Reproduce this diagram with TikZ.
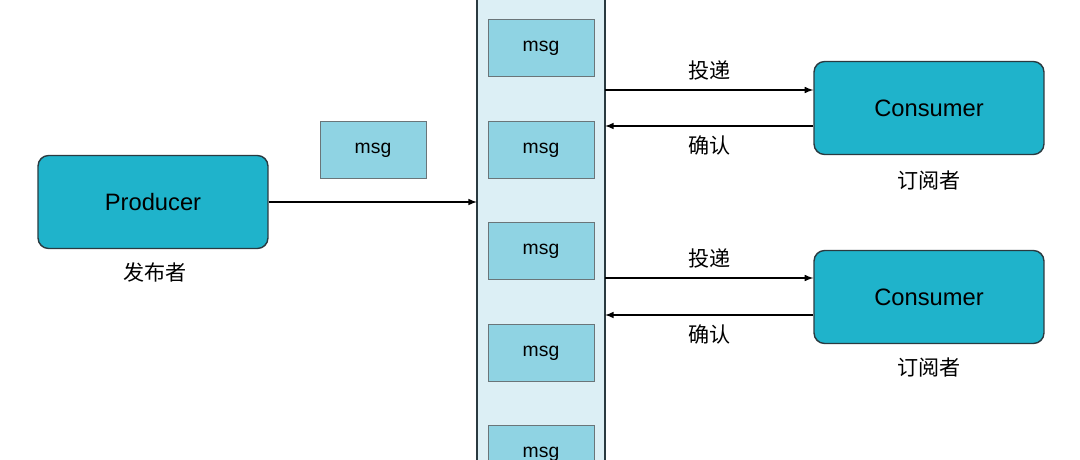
\documentclass[tikz,border=0pt]{standalone}
\usepackage{fontspec}
\setmainfont{Liberation Sans}
\newfontfamily\cjk{Noto Sans CJK SC}
\usetikzlibrary{positioning}
\definecolor{boxfill}{HTML}{1FB3CB}
\definecolor{msgfill}{HTML}{8FD3E3}
\definecolor{queuefill}{HTML}{DCEFF5}
\definecolor{edge}{HTML}{2A3A40}
\tikzset{
  role/.style={draw=edge,fill=boxfill,rounded corners=6pt,minimum width=4.6cm,minimum height=1.86cm,font=\fontsize{13.5}{15}\selectfont,line width=0.8pt},
  msgbox/.style={draw=edge!70,fill=msgfill,minimum width=2.12cm,minimum height=1.14cm,font=\fontsize{11}{13}\selectfont},
  cn/.style={font=\cjk\fontsize{12}{14}\selectfont},
  link/.style={-latex,line width=0.7pt}
}
\begin{document}
\begin{tikzpicture}[x=0.02cm,y=-0.02cm]
 \useasboundingbox (0,0) rectangle (1080,460);
 \clip (0,0) rectangle (1080,460);
 % queue
 \draw[edge,fill=queuefill,line width=0.8pt](477,-20) rectangle (605,480);
 \node[msgbox] (m1) at (541,48) {msg};
 \node[msgbox] (m2) at (541,150) {msg};
 \node[msgbox] (m3) at (541,251) {msg};
 \node[msgbox] (m4) at (541,353) {msg};
 \node[msgbox] (m5) at (541,454) {msg};
 \coordinate (qin) at (477,202);
 % producer
 \node[role] (prod) at (153,202) {Producer};
 \node[cn] (pub) at (155,272) {发布者};
 \node[msgbox] (fly) at (373,150) {msg};
 \draw[link] (prod) -- (qin);
 % consumers
 \node[role] (c1) at (929,108) {Consumer};
 \node[cn] (s1) at (929,180) {订阅者};
 \node[role] (c2) at (929,297) {Consumer};
 \node[cn] (s2) at (929,367) {订阅者};
 \coordinate (q1a) at (605,90);
 \coordinate (q1b) at (605,126);
 \coordinate (q2a) at (605,278);
 \coordinate (q2b) at (605,315);
 \draw[link] (q1a) -- (c1.west |- q1a) node[cn,midway,above=2pt] {投递};
 \draw[link] (c1.west |- q1b) -- (q1b) node[cn,midway,below=2pt] {确认};
 \draw[link] (q2a) -- (c2.west |- q2a) node[cn,midway,above=2pt] {投递};
 \draw[link] (c2.west |- q2b) -- (q2b) node[cn,midway,below=2pt] {确认};
\end{tikzpicture}
\end{document}
